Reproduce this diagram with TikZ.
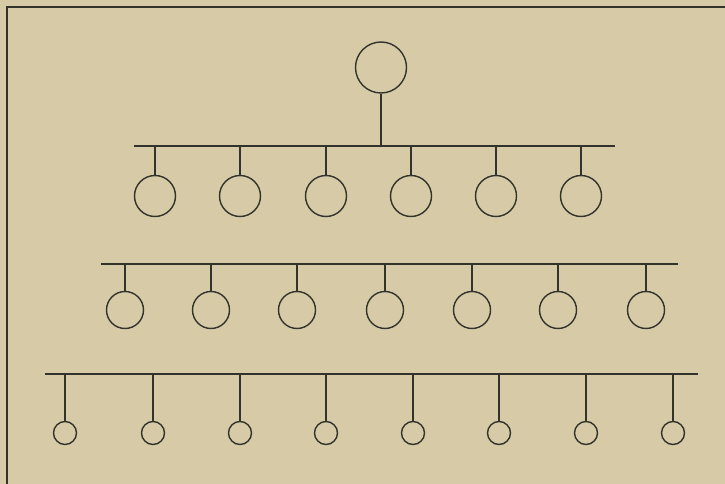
\documentclass[tikz,border=0pt]{standalone}
\definecolor{paper}{RGB}{214,203,166}
\definecolor{ink}{RGB}{52,50,44}
\begin{document}
\begin{tikzpicture}[x=1pt,y=-1pt,
  ring/.style={draw=ink,circle,inner sep=0pt,line width=1.4pt},
  big/.style={ring,minimum size=51pt},
  mid/.style={ring,minimum size=41pt},
  small/.style={ring,minimum size=37pt},
  tiny/.style={ring,minimum size=23pt},
  wire/.style={draw=ink,line width=1.3pt}]
\fill[paper] (0,0) rectangle (725,484);
\useasboundingbox (0,0) rectangle (725,484);
% frame (top and left edges visible)
\draw[wire] (7,490) -- (7,7) -- (730,7);
% root
\node[big] (root) at (381,67.5) {};
\coordinate (r1) at (381,146);
\draw[wire] (root.south) -- (r1);
% bar 1
\coordinate (b1L) at (134,146);
\coordinate (b1R) at (615,146);
\draw[wire] (b1L) -- (b1R);
\foreach \x [count=\i] in {155,240,326,411,496,581}{
  \node[mid] (a\i) at (\x,196) {};
  \coordinate (pa\i) at (\x,146);
  \draw[wire] (pa\i) -- (a\i.north);
}
% bar 2
\coordinate (b2L) at (101,264);
\coordinate (b2R) at (678,264);
\draw[wire] (b2L) -- (b2R);
\foreach \x [count=\i] in {125,211,297,385,472,558,646}{
  \node[small] (b\i) at (\x,310) {};
  \coordinate (pb\i) at (\x,264);
  \draw[wire] (pb\i) -- (b\i.north);
}
% bar 3
\coordinate (b3L) at (45,374);
\coordinate (b3R) at (698,374);
\draw[wire] (b3L) -- (b3R);
\foreach \x [count=\i] in {65,153,240,326,413,499,586,673}{
  \node[tiny] (c\i) at (\x,433) {};
  \coordinate (pc\i) at (\x,374);
  \draw[wire] (pc\i) -- (c\i.north);
}
\end{tikzpicture}
\end{document}
